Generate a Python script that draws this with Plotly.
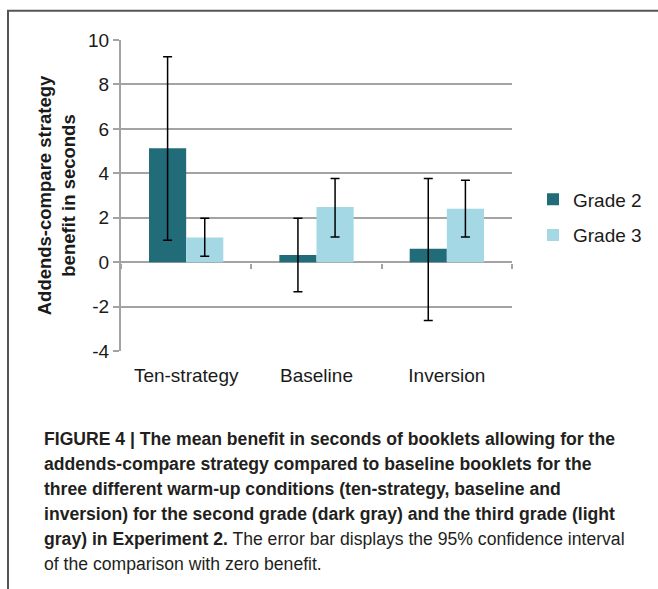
import plotly.graph_objects as go

# ---------------- data ----------------
categories = ["Ten-strategy", "Baseline", "Inversion"]
grade2_mean = [5.13, 0.32, 0.60]
grade2_upper = [9.25, 1.98, 3.77]
grade2_lower = [0.98, -1.33, -2.63]
grade3_mean = [1.11, 2.48, 2.40]
grade3_upper = [1.98, 3.77, 3.69]
grade3_lower = [0.27, 1.13, 1.13]
y_ticks = [-4, -2, 0, 2, 4, 6, 8, 10]
y_tick_labels = ["-4", "-2", "0", "2", "4", "6", "8", "10"]

caption_lines = [
    "<b>FIGURE 4 | The mean benefit in seconds of booklets allowing for the</b>",
    "<b>addends-compare strategy compared to baseline booklets for the</b>",
    "<b>three different warm-up conditions (ten-strategy, baseline and</b>",
    "<b>inversion) for the second grade (dark gray) and the third grade (light</b>",
    "<b>gray) in Experiment 2.</b> The error bar displays the 95% confidence interval",
    "of the comparison with zero benefit.",
]

# ---------------- layout constants ----------------
W, H = 658, 589
ML, MR, MT, MB = 121, 145, 40, 238
PW = W - ML - MR
PH = H - MT - MB

def px(x):
    return (x - ML) / PW

def py(y):
    return (H - MB - y) / PH

DARK = "#226b78"
LIGHT = "#a4d8e4"
GRID = "#a3a3a3"
FONT = "Liberation Sans, Arial, sans-serif"
CAP_FONT = "Liberation Sans, Arial, sans-serif"

def err(mean, up, lo):
    return dict(type="data", symmetric=False,
                array=[u - m for u, m in zip(up, mean)],
                arrayminus=[m - l for m, l in zip(mean, lo)],
                color="black", thickness=1.5, width=4.5)

fig = go.Figure()
fig.add_trace(go.Bar(x=categories, y=grade2_mean, name="Grade 2",
                     marker=dict(color=DARK, line=dict(width=0)),
                     error_y=err(grade2_mean, grade2_upper, grade2_lower),
                     legendgroup="g2"))
fig.add_trace(go.Bar(x=categories, y=grade3_mean, name="Grade 3",
                     marker=dict(color=LIGHT, line=dict(width=0)),
                     error_y=err(grade3_mean, grade3_upper, grade3_lower),
                     legendgroup="g3"))
# invisible helper trace for the category tick axis at zero
fig.add_trace(go.Scatter(x=categories, y=[None] * 3, xaxis="x2", showlegend=False,
                         hoverinfo="skip", mode="markers"))

fig.update_layout(
    width=W, height=H,
    margin=dict(l=ML, r=MR, t=MT, b=MB, pad=0),
    paper_bgcolor="white", plot_bgcolor="white",
    font=dict(family=FONT, size=19, color="#1a1a1a"),
    barmode="group", bargap=0.43, bargroupgap=0,
    showlegend=True,
    legend=dict(x=px(533), y=py(217.5), xanchor="left", yanchor="middle",
                font=dict(size=19, color="#1a1a1a"), tracegroupgap=8,
                traceorder="grouped", bgcolor="rgba(0,0,0,0)"),
    xaxis=dict(type="category", showline=False, showgrid=False, ticks="",
               zeroline=False, tickfont=dict(size=19), ticklabelstandoff=11),
    xaxis2=dict(type="category", overlaying="x", matches="x", anchor="free",
                position=py(262.7), showline=False, showgrid=False,
                ticks="outside", tickson="boundaries", ticklen=5,
                tickcolor=GRID, tickwidth=2, showticklabels=False),
    yaxis=dict(range=[-4, 10], tickvals=y_ticks, ticktext=y_tick_labels,
               showgrid=True, gridcolor=GRID,
               gridwidth=1.5, zeroline=True, zerolinecolor=GRID, zerolinewidth=2,
               showline=True, linecolor=GRID, linewidth=2, ticks="outside",
               ticklen=6, tickcolor=GRID, tickwidth=1.5, tickfont=dict(size=19),
               title=dict(text="<b>Addends-compare strategy<br>benefit in seconds</b>",
                          font=dict(size=18.5), standoff=8)),
)

# figure frame
fig.add_shape(type="path", xref="paper", yref="paper",
              path=f"M {px(7.7)} {py(H + 5)} L {px(7.7)} {py(10.7)} L {px(W + 5)} {py(10.7)}",
              line=dict(color="#555555", width=2))

for i, line in enumerate(caption_lines):
    fig.add_annotation(text=line, xref="paper", yref="paper",
                       x=px(42), y=py(439 + 25 * i), xanchor="left", yanchor="middle",
                       showarrow=False, align="left",
                       font=dict(family=CAP_FONT, size=17.6, color="#231f20"))

fig.write_html("out.html", config={"displayModeBar": False},
               post_script="document.body.style.margin='0';")
